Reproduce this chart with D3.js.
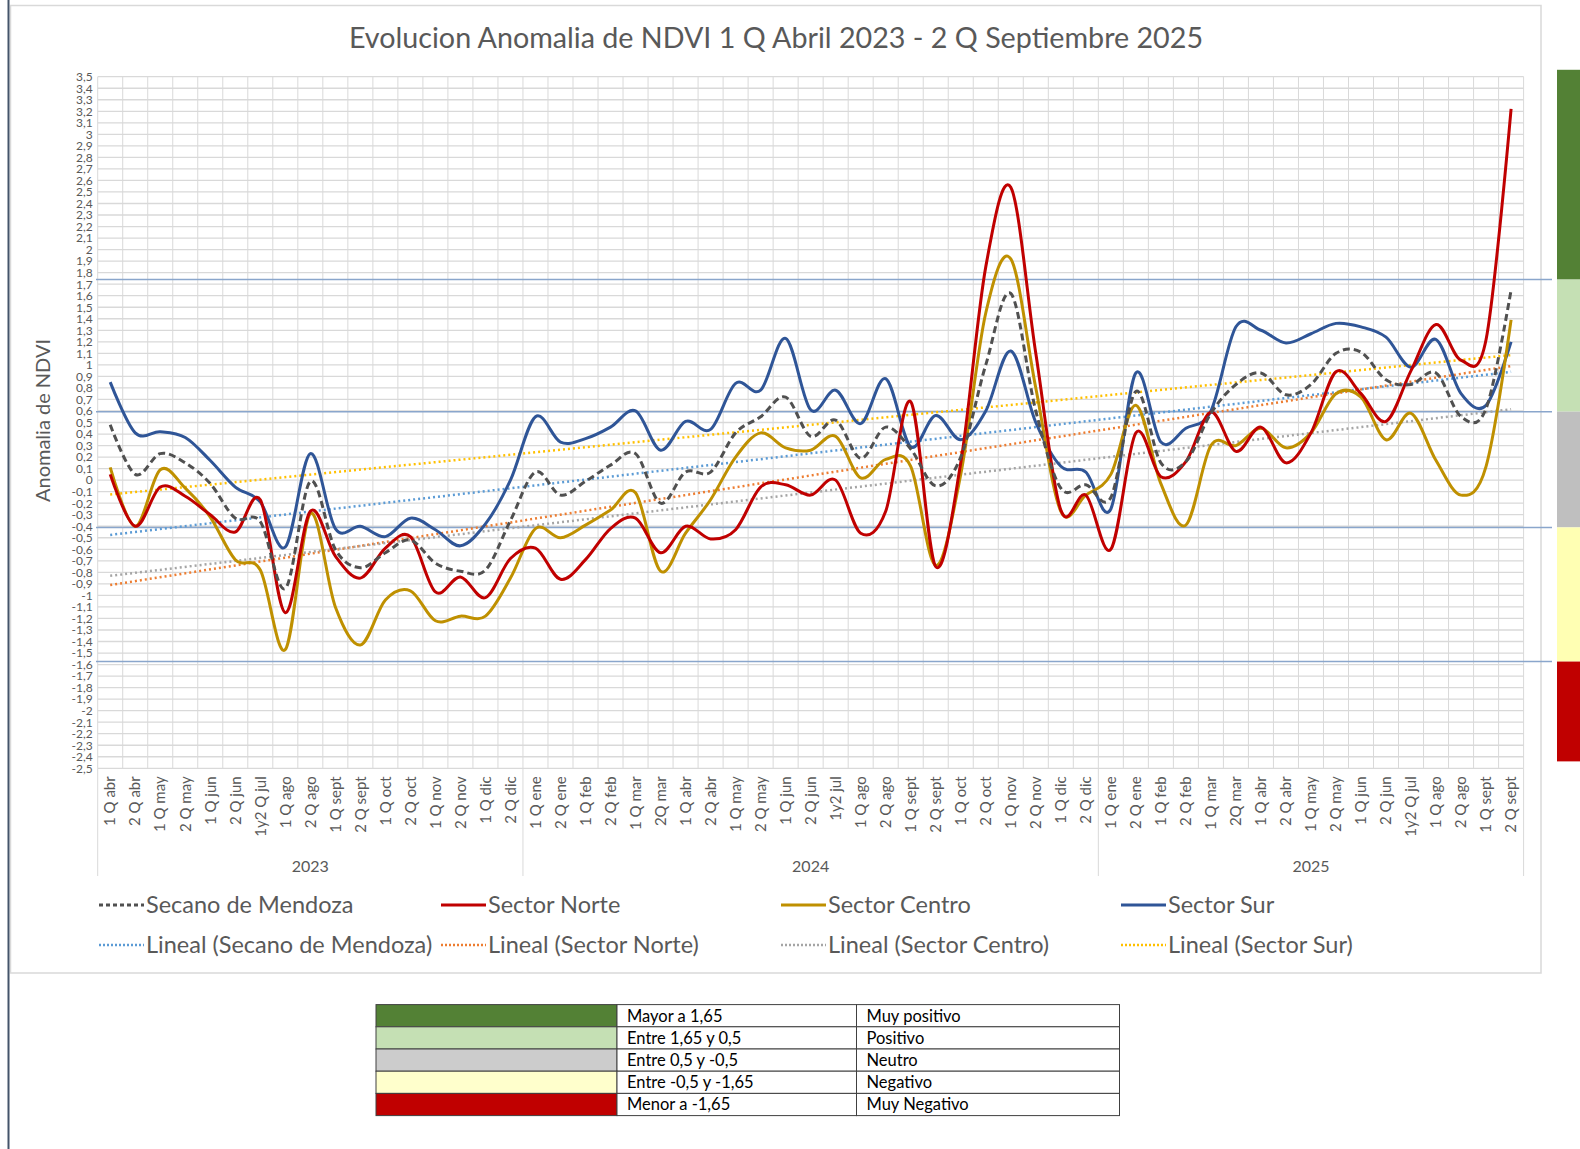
<!DOCTYPE html>
<html>
<head>
<meta charset="utf-8">
<script src="https://cdn.jsdelivr.net/npm/d3@7"></script>
<style>
  body { margin: 0; background: #fff; }
  svg { display: block; font-family: Lato, "Open Sans", sans-serif; }
</style>
</head>
<body>
<svg id="chart" width="1580" height="1149"></svg>
<script>
// ---- data ----
const categories = [
  "1 Q abr","2 Q abr","1 Q may","2 Q may","1 Q jun","2 Q jun","1y2 Q jul","1 Q ago","2 Q ago","1 Q sept","2 Q sept","1 Q oct","2 Q oct","1 Q nov","2 Q nov","1 Q dic","2 Q dic",
  "1 Q ene","2 Q ene","1 Q feb","2 Q feb","1 Q mar","2Q mar","1 Q abr","2 Q abr","1 Q may","2 Q may","1 Q jun","2 Q jun","1y2 jul","1 Q ago","2 Q ago","1 Q sept","2 Q sept","1 Q oct","2 Q oct","1 Q nov","2 Q nov","1 Q dic","2 Q dic",
  "1 Q ene","2 Q ene","1 Q feb","2 Q feb","1 Q mar","2Q mar","1 Q abr","2 Q abr","1 Q may","2 Q may","1 Q jun","2 Q jun","1y2 Q jul","1 Q ago","2 Q ago","1 Q sept","2 Q sept"
];
const yearLabels = ["2023", "2024", "2025"];
const yearCounts = [17, 23, 17];

const secano = [0.48,0.05,0.23,0.15,-0.03,-0.33,-0.36,-0.94,-0.01,-0.60,-0.76,-0.63,-0.52,-0.72,-0.79,-0.78,-0.35,
  0.07,-0.13,-0.01,0.13,0.23,-0.20,0.07,0.07,0.41,0.55,0.72,0.38,0.52,0.19,0.46,0.27,-0.05,0.20,1.00,1.62,0.60,-0.07,-0.04,
  -0.15,0.77,0.15,0.16,0.58,0.83,0.93,0.74,0.83,1.10,1.11,0.87,0.83,0.93,0.55,0.62,1.65];
const norte = [0.05,-0.40,-0.06,-0.14,-0.30,-0.45,-0.17,-1.15,-0.27,-0.66,-0.85,-0.59,-0.49,-0.97,-0.84,-1.02,-0.68,
  -0.59,-0.86,-0.69,-0.42,-0.33,-0.63,-0.40,-0.51,-0.43,-0.06,-0.04,-0.13,0.00,-0.46,-0.27,0.68,-0.75,0.15,1.85,2.54,1.10,-0.26,-0.13,
  -0.60,0.41,0.03,0.16,0.59,0.25,0.46,0.15,0.41,0.94,0.75,0.51,0.95,1.35,1.04,1.22,3.22];
const centro = [0.11,-0.40,0.09,-0.07,-0.32,-0.69,-0.78,-1.47,-0.29,-1.10,-1.43,-1.04,-0.96,-1.22,-1.18,-1.18,-0.85,
  -0.42,-0.50,-0.39,-0.26,-0.11,-0.79,-0.46,-0.17,0.20,0.41,0.28,0.26,0.38,0.02,0.18,0.12,-0.74,0.05,1.45,1.92,0.80,-0.27,-0.13,
  0.05,0.65,-0.03,-0.39,0.30,0.30,0.45,0.28,0.41,0.75,0.72,0.35,0.58,0.17,-0.13,0.12,1.39];
const sur = [0.85,0.41,0.42,0.37,0.17,-0.06,-0.19,-0.58,0.23,-0.42,-0.40,-0.49,-0.33,-0.43,-0.57,-0.38,0.00,
  0.55,0.33,0.36,0.46,0.60,0.26,0.51,0.44,0.84,0.78,1.23,0.61,0.78,0.49,0.88,0.29,0.56,0.35,0.60,1.12,0.50,0.12,0.07,
  -0.25,0.93,0.33,0.45,0.60,1.33,1.30,1.19,1.27,1.36,1.33,1.24,0.98,1.22,0.75,0.65,1.20];

// linear trend lines: value at first and last category
const trendSecano = [-0.475, 0.94];
const trendNorte = [-0.91, 0.99];
const trendCentro = [-0.83, 0.615];
const trendSur = [-0.125, 1.085];

// class limits drawn as horizontal lines and the side colour bar
const thresholds = [1.74, 0.594, -0.41, -1.574];
const barLimits = [3.56, 1.74, 0.594, -0.41, -1.574, -2.44];

const classRange = ["Mayor a 1,65", "Entre 1,65 y 0,5", "Entre 0,5 y -0,5", "Entre -0,5 y -1,65", "Menor a -1,65"];
const className = ["Muy positivo", "Positivo", "Neutro", "Negativo", "Muy Negativo"];

const yTicks = d3.range(-25, 36).map(d => d / 10);

// ---- drawing ----
const svg = d3.select("#chart");
const W = 1580, H = 1149;
const plot = { left: 97.7, right: 1523.6, top: 76.7, bottom: 768.3 };

const classColors = ["#538135", "#c5e0b4", "#bfbfbf", "#ffffb3", "#c00000"];
const tableColors = ["#538135", "#c5e0b4", "#cccccc", "#ffffcc", "#c00000"];

svg.append("rect").attr("width", W).attr("height", H).attr("fill", "#fff");

// outer frames
svg.append("rect")
  .attr("x", 10.5).attr("y", 5.5).attr("width", 1530.5).attr("height", 967.5)
  .attr("fill", "none").attr("stroke", "#d9d9d9").attr("stroke-width", 1.5);
svg.append("line")
  .attr("x1", 8.5).attr("x2", 8.5).attr("y1", 0).attr("y2", H)
  .attr("stroke", "#44546a").attr("stroke-width", 2);

const x = d3.scaleBand()
  .domain(d3.range(categories.length))
  .range([plot.left, plot.right]);
const cx = i => x(i) + x.bandwidth() / 2;

const y = d3.scaleLinear()
  .domain([-2.5, 3.5])
  .range([plot.bottom, plot.top]);

// gridlines
const grid = svg.append("g");
grid.selectAll(".hg")
  .data(yTicks)
  .enter().append("line")
  .attr("x1", plot.left).attr("x2", plot.right)
  .attr("y1", d => y(d)).attr("y2", d => y(d))
  .attr("stroke", "#d9d9d9").attr("stroke-width", 1.3);
grid.selectAll(".vg")
  .data(d3.range(categories.length + 1))
  .enter().append("line")
  .attr("x1", d => plot.left + d * x.step()).attr("x2", d => plot.left + d * x.step())
  .attr("y1", plot.top).attr("y2", plot.bottom)
  .attr("stroke", "#d9d9d9").attr("stroke-width", 1);

// y axis (labels are packed tight, as in the original)
const yAxis = svg.append("g")
  .attr("transform", `translate(${plot.left},0)`)
  .call(d3.axisLeft(y).tickValues(yTicks).tickSize(0).tickPadding(5)
    .tickFormat(d => String(Math.round(d * 10) / 10).replace(".", ",")));
yAxis.select(".domain").remove();
yAxis.selectAll("text")
  .attr("fill", "#595959")
  .attr("font-size", "12px")
  .attr("font-family", "Lato, sans-serif");

svg.append("text")
  .attr("transform", `translate(50,${(plot.top + plot.bottom) / 2 - 2}) rotate(-90)`)
  .attr("text-anchor", "middle")
  .attr("fill", "#595959")
  .attr("font-size", "20px")
  .text("Anomalia de NDVI");

// x axis (categories)
const xAxis = svg.append("g")
  .attr("transform", `translate(0,${plot.bottom})`)
  .call(d3.axisBottom(x).tickSize(0).tickFormat(i => categories[i]));
xAxis.select(".domain").remove();
xAxis.selectAll("text")
  .attr("transform", "rotate(-90)")
  .attr("text-anchor", "end")
  .attr("x", -8).attr("y", 0).attr("dy", "0.35em")
  .attr("fill", "#595959")
  .attr("font-size", "15px")
  .attr("font-family", "Lato, sans-serif");

// year level
let start = 0;
const yearGroups = yearLabels.map((label, k) => {
  const g = { label, from: start, to: start + yearCounts[k] };
  start += yearCounts[k];
  return g;
});
const bounds = [0].concat(yearGroups.map(g => g.to));
svg.selectAll(".ysep")
  .data(bounds)
  .enter().append("line")
  .attr("x1", d => plot.left + d * x.step()).attr("x2", d => plot.left + d * x.step())
  .attr("y1", plot.bottom).attr("y2", 876)
  .attr("stroke", "#d9d9d9").attr("stroke-width", 1);
svg.selectAll(".ylab")
  .data(yearGroups)
  .enter().append("text")
  .attr("x", d => plot.left + (d.from + d.to) / 2 * x.step())
  .attr("y", 872)
  .attr("text-anchor", "middle")
  .attr("fill", "#595959")
  .attr("font-size", "16px")
  .text(d => d.label);

// threshold lines
svg.selectAll(".thr")
  .data(thresholds)
  .enter().append("line")
  .attr("x1", 96).attr("x2", 1552)
  .attr("y1", d => y(d)).attr("y2", d => y(d))
  .attr("stroke", "#8aa6cc").attr("stroke-width", 1.5);

// side colour bar
svg.selectAll(".band")
  .data(classColors)
  .enter().append("rect")
  .attr("x", 1557).attr("width", 23)
  .attr("y", (d, i) => y(barLimits[i]))
  .attr("height", (d, i) => y(barLimits[i + 1]) - y(barLimits[i]))
  .attr("fill", d => d);

// series
const series = [
  { name: "Secano de Mendoza", values: secano, trend: trendSecano, color: "#505050", dash: "7,4", tcolor: "#5b9bd5" },
  { name: "Sector Norte", values: norte, trend: trendNorte, color: "#c00000", dash: null, tcolor: "#ed7d31" },
  { name: "Sector Centro", values: centro, trend: trendCentro, color: "#bf9000", dash: null, tcolor: "#a5a5a5" },
  { name: "Sector Sur", values: sur, trend: trendSur, color: "#2f5597", dash: null, tcolor: "#ffc000" }
];

const trendLine = d3.line().x(d => cx(d[0])).y(d => y(d[1]));
series.forEach(s => {
  svg.append("path")
    .datum([[0, s.trend[0]], [categories.length - 1, s.trend[1]]])
    .attr("fill", "none")
    .attr("stroke", s.tcolor)
    .attr("stroke-width", 2.5)
    .attr("stroke-dasharray", "2,3")
    .attr("d", trendLine);
});

const line = d3.line()
  .x((d, i) => cx(i))
  .y(d => y(d))
  .curve(d3.curveCardinal.tension(0));
[3, 2, 1, 0].forEach(k => {
  const s = series[k];
  svg.append("path")
    .datum(s.values)
    .attr("fill", "none")
    .attr("stroke", s.color)
    .attr("stroke-width", 3)
    .attr("stroke-dasharray", s.dash)
    .attr("d", line);
});

// title
svg.append("text")
  .attr("x", 776).attr("y", 48)
  .attr("text-anchor", "middle")
  .attr("fill", "#595959")
  .attr("font-size", "28.7px")
  .text("Evolucion Anomalia de NDVI 1 Q Abril 2023 - 2 Q Septiembre 2025");

// legend
const legendX = [99, 441, 781, 1121];
const legend = svg.append("g");
series.forEach((s, i) => {
  const lx = legendX[i];
  legend.append("line")
    .attr("x1", lx).attr("x2", lx + 45).attr("y1", 905).attr("y2", 905)
    .attr("stroke", s.color).attr("stroke-width", 3)
    .attr("stroke-dasharray", s.dash ? "4,3" : null);
  legend.append("text")
    .attr("x", lx + 47).attr("y", 913)
    .attr("fill", "#595959").attr("font-size", "23.5px")
    .text(s.name);
  legend.append("line")
    .attr("x1", lx).attr("x2", lx + 45).attr("y1", 945).attr("y2", 945)
    .attr("stroke", s.tcolor).attr("stroke-width", 2.5)
    .attr("stroke-dasharray", "2,2");
  legend.append("text")
    .attr("x", lx + 47).attr("y", 953)
    .attr("fill", "#595959").attr("font-size", "23.5px")
    .text(`Lineal (${s.name})`);
});

// class table
const cols = [376, 617, 856.5, 1119.5];
const rowH = 22.2, tableTop = 1004.6;
const table = svg.append("g");
classRange.forEach((r, i) => {
  const ry = tableTop + i * rowH;
  table.append("rect").attr("x", cols[0]).attr("y", ry).attr("width", cols[1] - cols[0]).attr("height", rowH)
    .attr("fill", tableColors[i]).attr("stroke", "#404040").attr("stroke-width", 1);
  table.append("rect").attr("x", cols[1]).attr("y", ry).attr("width", cols[2] - cols[1]).attr("height", rowH)
    .attr("fill", "#fff").attr("stroke", "#404040").attr("stroke-width", 1);
  table.append("rect").attr("x", cols[2]).attr("y", ry).attr("width", cols[3] - cols[2]).attr("height", rowH)
    .attr("fill", "#fff").attr("stroke", "#404040").attr("stroke-width", 1);
  table.append("text").attr("x", cols[1] + 10).attr("y", ry + 17)
    .attr("font-size", "16.5px").attr("fill", "#000").text(r);
  table.append("text").attr("x", cols[2] + 10).attr("y", ry + 17)
    .attr("font-size", "16.5px").attr("fill", "#000").text(className[i]);
});
</script>
</body>
</html>
